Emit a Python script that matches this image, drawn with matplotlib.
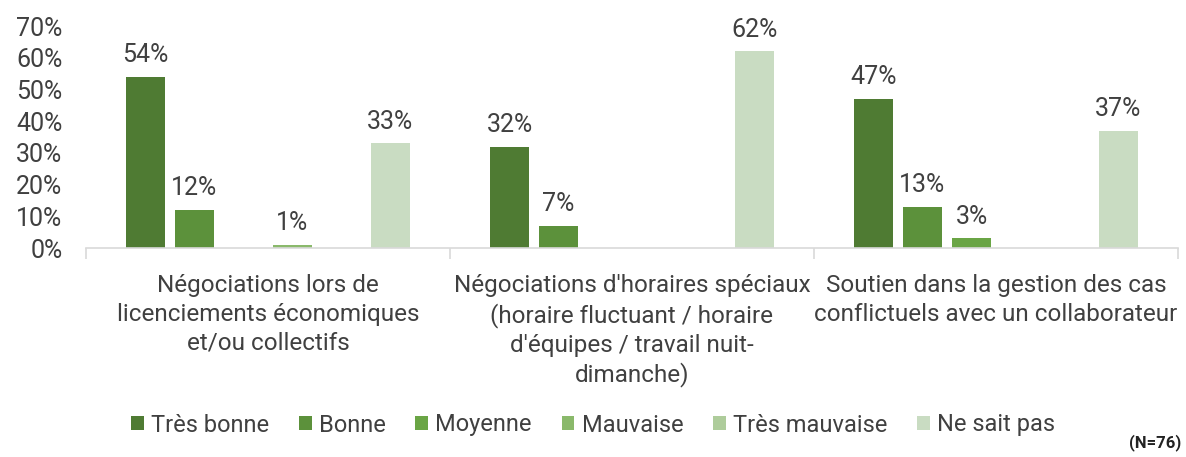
import matplotlib.pyplot as plt
from matplotlib.ticker import PercentFormatter, FixedLocator
from matplotlib.patches import Patch

plt.rcParams['font.family'] = ['Roboto', 'DejaVu Sans']

categories = [
    "Négociations lors de\nlicenciements économiques\net/ou collectifs",
    "Négociations d'horaires spéciaux\n(horaire fluctuant / horaire\nd'équipes / travail nuit-\ndimanche)",
    "Soutien dans la gestion des cas\nconflictuels avec un collaborateur",
]
series = ["Très bonne", "Bonne", "Moyenne", "Mauvaise", "Très mauvaise", "Ne sait pas"]
tres_bonne = [54, 32, 47]
bonne = [12, 7, 13]
moyenne = [0, 0, 3]
mauvaise = [1, 0, 0]
tres_mauvaise = [0, 0, 0]
ne_sait_pas = [33, 62, 37]
colors = ["#4f7b33", "#5c913b", "#6aa545", "#8ab96b", "#aecc9b", "#c9dcc2"]

text_col = "#404040"
all_values = [tres_bonne, bonne, moyenne, mauvaise, tres_mauvaise, ne_sait_pas]

fig = plt.figure(figsize=(11.86, 4.57), dpi=100)
ax = fig.add_axes([86 / 1186, 209 / 457, 1092 / 1186, 222 / 457])

step = 0.1346
width = 0.106
for i, vals in enumerate(all_values):
    xs = [g + (i - 2.5) * step for g in range(len(categories))]
    ys = [v / 100 for v in vals]
    ax.bar(xs, ys, width=width, color=colors[i], linewidth=0)
    for x, v in zip(xs, vals):
        if v > 0:
            ax.annotate(f"{v}%", (x, v / 100), xytext=(0, 7), textcoords="offset points",
                        ha="center", va="bottom", fontsize=18, color=text_col)

ax.set_xlim(-0.5, 2.5)
ax.set_ylim(0, 0.7)
ax.set_yticks([i / 10 for i in range(8)])
ax.yaxis.set_major_formatter(PercentFormatter(1.0, decimals=0))
ax.tick_params(axis="y", length=0, pad=17, labelsize=18, labelcolor=text_col)

ax.xaxis.set_major_locator(FixedLocator([-0.5, 0.5, 1.5, 2.5]))
ax.xaxis.set_minor_locator(FixedLocator([0, 1, 2]))
ax.set_xticklabels([], minor=False)
ax.set_xticklabels(categories, minor=True)
ax.tick_params(axis="x", which="major", length=8, color="#d9d9d9", width=1.2)
ax.tick_params(axis="x", which="minor", length=0, pad=19, labelsize=17.5, labelcolor=text_col)
for lbl in ax.get_xticklabels(minor=True):
    lbl.set_linespacing(1.3)

for s in ["left", "right", "top"]:
    ax.spines[s].set_visible(False)
ax.spines["bottom"].set_color("#d9d9d9")
ax.spines["bottom"].set_linewidth(1.2)

handles = [Patch(facecolor=c, label=s) for c, s in zip(colors, series)]
fig.legend(handles=handles, loc="center", bbox_to_anchor=(0.5, 1 - 425 / 457), ncol=6,
           frameon=False, fontsize=17, handlelength=0.55, handleheight=0.55,
           handletextpad=0.3, columnspacing=1.25, labelcolor=text_col)

fig.text(1181 / 1186, 1 - 443 / 457, "(N=76)", ha="right", va="center",
         fontsize=12, fontweight="bold", color="#222222")

fig.savefig("out.png", dpi=100)
